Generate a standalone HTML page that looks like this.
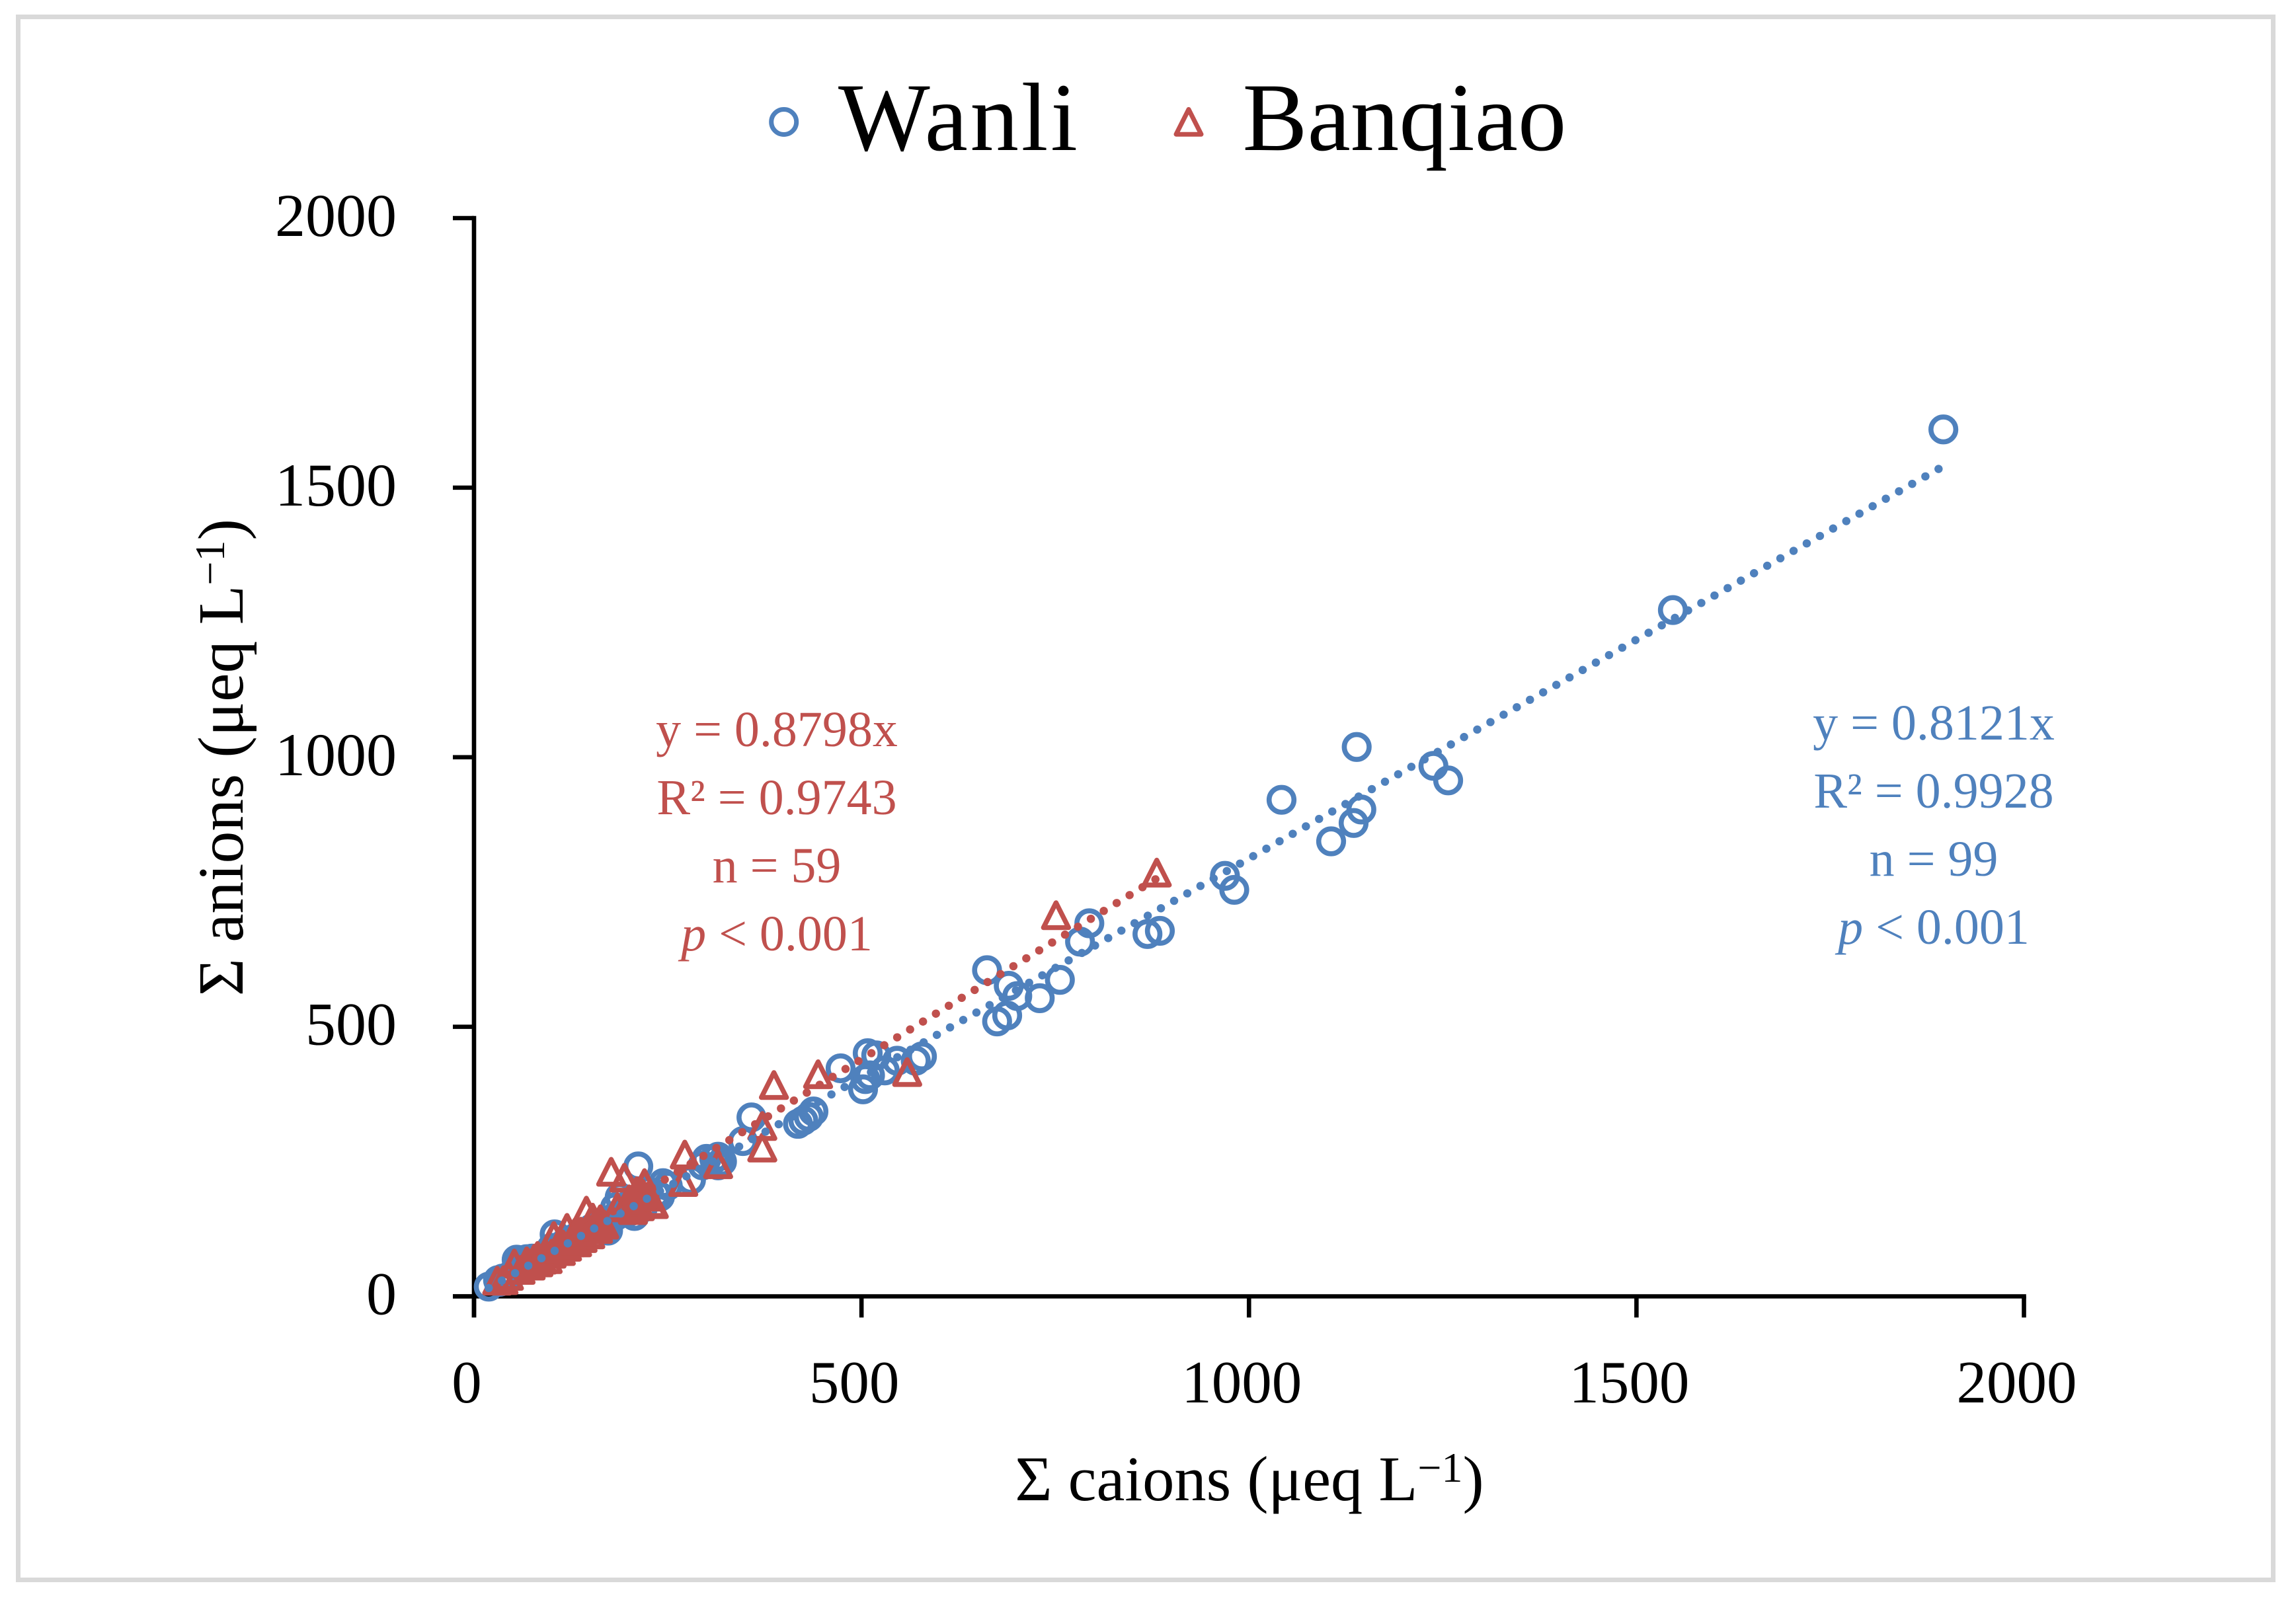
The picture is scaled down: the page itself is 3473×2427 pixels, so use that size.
<!DOCTYPE html>
<html lang="en">
<head>
<meta charset="utf-8">
<title>Ion balance scatter chart</title>
<style>
html,body{margin:0;padding:0;background:#fff;width:3473px;height:2427px;overflow:hidden}
svg{display:block}
text{font-family:"Liberation Serif",serif}
</style>
</head>
<body>
<svg id="chart" xmlns="http://www.w3.org/2000/svg" width="3473" height="2427" viewBox="0 0 3473 2427">
  <rect x="27.5" y="25.5" width="3411" height="2365" fill="#fff" stroke="#D9D9D9" stroke-width="7"/>

  <g>
    <circle cx="1185.700" cy="184.500" r="19" fill="none" stroke="#4F81BD" stroke-width="7"/>
    <text x="1268" y="227" font-size="147" textLength="362" fill="#000">Wanli</text>
    <path d="M1798 165.500 L1817 203.200 L1779 203.200 Z" fill="none" stroke="#C0504D" stroke-width="7" stroke-linejoin="round"/>
    <text x="1879.500" y="227" font-size="147" fill="#000">Banqiao</text>
  </g>

  <g id="axes"></g>
  <g id="wanli-points"></g>
  <g id="banqiao-points"></g>
  <g id="trendlines"></g>

  <text x="1890" y="2270" font-size="96.500" text-anchor="middle" fill="#000">Σ caions (μeq L<tspan font-size="64" dy="-28">−1</tspan><tspan dy="28">)</tspan></text>
  <text transform="translate(367 1146) rotate(-90)" x="0" y="0" font-size="97.600" text-anchor="middle" fill="#000">Σ anions (μeq L<tspan font-size="64" dy="-28">−1</tspan><tspan dy="28">)</tspan></text>

  <g font-size="76" fill="#C0504D" text-anchor="middle">
    <text x="1175" y="1129">y = 0.8798x</text>
    <text x="1175" y="1232">R² = 0.9743</text>
    <text x="1175" y="1335">n = 59</text>
    <text x="1175" y="1438"><tspan font-style="italic">p</tspan> &lt; 0.001</text>
  </g>
  <g font-size="76" fill="#4F81BD" text-anchor="middle">
    <text x="2925" y="1119">y = 0.8121x</text>
    <text x="2925" y="1222">R² = 0.9928</text>
    <text x="2925" y="1325">n = 99</text>
    <text x="2925" y="1428"><tspan font-style="italic">p</tspan> &lt; 0.001</text>
  </g>
</svg>

<script>
const xTickValues = [0, 500, 1000, 1500, 2000];
const yTickValues = [0, 500, 1000, 1500, 2000];

const wanliX = [1896,1547,1139,1042,1238,1257,1145,1135,1106,969,981,885,869,794,782,756,730,662,690,701,688,675,508,519,473,578,570,546,530,511,505,502,
  438,432,425,418,358,347,320,315,310,300,315,295,280,244,250,212,235,225,240,218,207,198,
  19,31,33,37,42,48,55,61,68,58,64,72,75,78,82,86,90,94,98,104,100,105,110,114,118,122,126,130,134,138,142,148,152,156,160,166,170,173,176,182,188,184,190,196,200];
const wanliY = [1608,1273,1019,921,984,957,903,878,844,780,754,678,672,692,658,587,553,605,576,557,521,510,451,447,423,445,437,437,419,410,403,384,
  343,333,326,320,332,288,250,259,255,255,243,243,216,210,205,241,190,195,185,165,149,155,
  18,30,27,33,30,40,68,67,69,48,54,60,70,62,68,72,74,80,78,115,90,82,90,95,100,96,104,108,110,114,116,120,126,128,132,136,128,122,140,165,184,150,156,162,170];

const banqiaoX = [881,751,559,444,387,372,372,272,270,315,177,194,220,207,232,214,230,224,210,200,205,218,185,
  30,38,45,52,60,68,73,82,83,88,95,100,103,108,112,120,120,125,133,130,140,145,148,150,153,155,160,162,163,168,70,78,92,115,138,128];
const banqiaoY = [786,707,416,412,392,316,276,263,212,245,231,220,210,175,171,167,173,185,195,180,160,190,165,
  29,30,38,61,49,65,57,75,63,68,69,79,112,88,84,127,92,100,100,118,108,159,124,115,146,130,125,140,143,133,62,70,80,96,120,104];

const wanliSlope = 0.8121;
const banqiaoSlope = 0.8798;

const NS = 'http://www.w3.org/2000/svg';
const plotLeft = 717, plotRight = 3061.5, plotTop = 330, plotBottom = 1961.5;
const axisMax = 2000;
const BLUE = '#4F81BD', RED = '#C0504D';

function xScale(v){ return plotLeft + (v / axisMax) * (plotRight - plotLeft); }
function yScale(v){ return plotBottom - (v / axisMax) * (plotBottom - plotTop); }

function make(tag, attrs, parent){
  const el = document.createElementNS(NS, tag);
  for (const k in attrs) el.setAttribute(k, attrs[k]);
  parent.appendChild(el);
  return el;
}

const axes = document.getElementById('axes');

const yAxisLine = make('line', {x1: plotLeft, y1: plotTop - 3.3, x2: plotLeft, y2: plotBottom + 32, stroke: '#000', 'stroke-width': 6.6}, axes);



const xAxisLine = make('line', {x1: plotLeft - 32, y1: plotBottom, x2: plotRight + 3.3, y2: plotBottom, stroke: '#000', 'stroke-width': 6.6}, axes);



xTickValues.forEach(function(v){
  const px = xScale(v);
  const tick = make('line', {x1: px, y1: plotBottom, x2: px, y2: plotBottom + 32, stroke: '#000', 'stroke-width': 6.6}, axes);
  
  
  const label = make('text', {x: px - 11, y: 2122, 'font-size': 91, 'text-anchor': 'middle', fill: '#000'}, axes);
  label.textContent = String(v);
  
  
});

yTickValues.forEach(function(v){
  const py = yScale(v);
  const tick = make('line', {x1: plotLeft - 32, y1: py, x2: plotLeft, y2: py, stroke: '#000', 'stroke-width': 6.6}, axes);
  
  
  const label = make('text', {x: 600, y: py + 27, 'font-size': 92, 'text-anchor': 'end', fill: '#000'}, axes);
  label.textContent = String(v);
  
  
});

const wanliGroup = document.getElementById('wanli-points');
wanliX.forEach(function(v, i){
  const c = make('circle', {cx: xScale(v), cy: yScale(wanliY[i]), r: 18.8, fill: 'none', stroke: BLUE, 'stroke-width': 7.6}, wanliGroup);
  
  
});

const banqiaoGroup = document.getElementById('banqiao-points');
banqiaoX.forEach(function(v, i){
  const cx = xScale(v), cy = yScale(banqiaoY[i]);
  const d = 'M' + cx + ' ' + (cy - 18.8) + ' L' + (cx + 19) + ' ' + (cy + 18.8) + ' L' + (cx - 19) + ' ' + (cy + 18.8) + ' Z';
  const t = make('path', {d: d, fill: 'none', stroke: RED, 'stroke-width': 7.4, 'stroke-linejoin': 'round'}, banqiaoGroup);
  
  
});

const trendGroup = document.getElementById('trendlines');
const banqiaoMinX = Math.min.apply(null, banqiaoX), banqiaoMaxX = Math.max.apply(null, banqiaoX);
const wanliMinX = Math.min.apply(null, wanliX), wanliMaxX = Math.max.apply(null, wanliX);

const banqiaoTrend = make('line', {
  x1: xScale(banqiaoMinX), y1: yScale(banqiaoMinX * banqiaoSlope),
  x2: xScale(banqiaoMaxX), y2: yScale(banqiaoMaxX * banqiaoSlope),
  stroke: RED, 'stroke-width': 12.5, 'stroke-linecap': 'round',
  'stroke-dasharray': '0.01 22.89', 'stroke-dashoffset': 0.6
}, trendGroup);



const wanliTrend = make('line', {
  x1: xScale(wanliMinX), y1: yScale(wanliMinX * wanliSlope),
  x2: xScale(wanliMaxX), y2: yScale(wanliMaxX * wanliSlope),
  stroke: BLUE, 'stroke-width': 12.5, 'stroke-linecap': 'round',
  'stroke-dasharray': '0.01 22.89'
}, trendGroup);


</script>
</body>
</html>
